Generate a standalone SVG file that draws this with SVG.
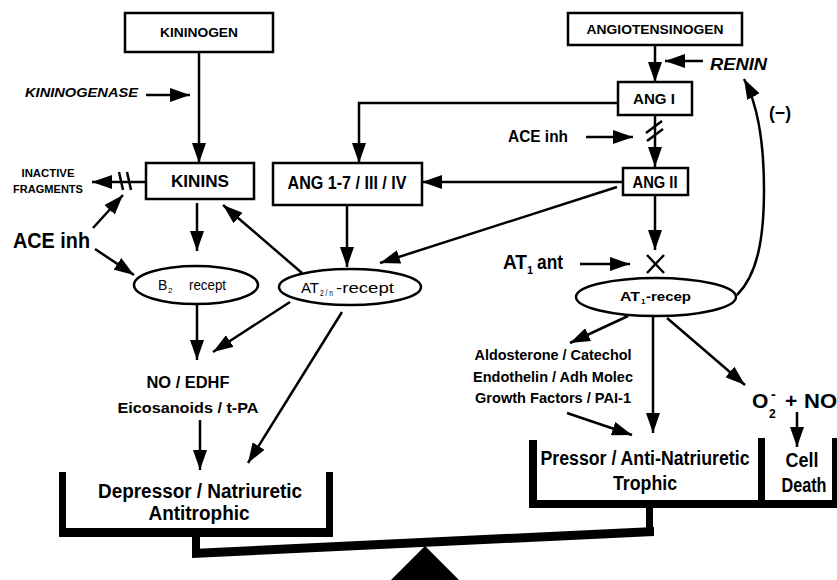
<svg xmlns="http://www.w3.org/2000/svg" width="837" height="580" viewBox="0 0 837 580">
<style>
text{font-family:"Liberation Sans",Arial,sans-serif;font-weight:bold;fill:#000}
.it{font-style:italic}
.rg{font-weight:normal}
.box{fill:#fff;stroke:#000;stroke-width:2.5}
.ell{fill:#fff;stroke:#000;stroke-width:2.5}
.ln{stroke:#000;stroke-width:2.5;fill:none}
.ar{marker-end:url(#ah)}
.blk{fill:#000}
</style>
<defs>
<marker id="ah" markerUnits="userSpaceOnUse" markerWidth="20" markerHeight="14" refX="20" refY="7" orient="auto"><path d="M0,0 L20,7 L0,14 z" fill="#000"/></marker>
</defs>
<rect width="837" height="580" fill="#fff"/>

<g id="connectors">
<line class="ln ar" x1="199" y1="52" x2="199" y2="163"/>
<line class="ln ar" x1="146" y1="95" x2="190" y2="95"/>
<line class="ln ar" x1="146" y1="182" x2="92" y2="182"/>
<line class="ln" x1="119" y1="172" x2="123" y2="190"/>
<line class="ln" x1="127" y1="172" x2="131" y2="190"/>
<line class="ln ar" x1="93" y1="228" x2="123" y2="195"/>
<line class="ln ar" x1="95" y1="249" x2="134" y2="275"/>
<line class="ln ar" x1="197" y1="203" x2="197" y2="251"/>
<line class="ln ar" x1="197" y1="305" x2="197" y2="360"/>
<line class="ln ar" x1="302" y1="273" x2="223" y2="205"/>
<line class="ln ar" x1="347" y1="205" x2="347" y2="267"/>
<line class="ln ar" x1="617" y1="187" x2="380" y2="263"/>
<line class="ln ar" x1="290" y1="302" x2="213" y2="352"/>
<line class="ln ar" x1="342" y1="312" x2="248" y2="463"/>
<line class="ln ar" x1="200" y1="420" x2="200" y2="470"/>
<polyline class="ln ar" points="618,103 359,103 359,163"/>
<line class="ln ar" x1="655" y1="45" x2="655" y2="82"/>
<line class="ln ar" x1="703" y1="61" x2="665" y2="61"/>
<line class="ln ar" x1="655" y1="115" x2="655" y2="167"/>
<line class="ln" x1="646" y1="133" x2="662" y2="121"/>
<line class="ln" x1="647" y1="141" x2="663" y2="129"/>
<line class="ln ar" x1="586" y1="137" x2="633" y2="137"/>
<line class="ln ar" x1="623" y1="182" x2="422" y2="182"/>
<line class="ln ar" x1="655" y1="195" x2="655" y2="250"/>
<line class="ln ar" x1="580" y1="264" x2="630" y2="264"/>
<line class="ln" x1="647" y1="255" x2="664" y2="273"/>
<line class="ln" x1="664" y1="255" x2="647" y2="273"/>
<path class="ln ar" d="M737,295 C757,275 764,240 764,190 C764,140 758,105 744,79"/>
<line class="ln ar" x1="628" y1="316" x2="570" y2="343"/>
<line class="ln ar" x1="653" y1="316" x2="653" y2="433"/>
<line class="ln ar" x1="667" y1="318" x2="745" y2="385"/>
<line class="ln ar" x1="567" y1="413" x2="632" y2="435"/>
<line class="ln ar" x1="797" y1="412" x2="797" y2="447"/>
</g>

<g id="kininogen">
<rect class="box" x="125" y="13" width="148" height="39"/>
<text x="199" y="37" font-size="13.5" text-anchor="middle" textLength="78" lengthAdjust="spacingAndGlyphs">KININOGEN</text>
</g>
<g id="kininogenase">
<text class="it" x="25" y="97" font-size="13.5" textLength="113" lengthAdjust="spacingAndGlyphs">KININOGENASE</text>
</g>
<g id="kinins">
<rect class="box" x="146" y="163" width="108" height="36"/>
<text x="200" y="187" font-size="17" text-anchor="middle" textLength="58" lengthAdjust="spacingAndGlyphs">KININS</text>
</g>
<g id="inactive">
<text x="48" y="177" font-size="11" text-anchor="middle" textLength="53" lengthAdjust="spacingAndGlyphs">INACTIVE</text>
<text x="48" y="193" font-size="11" text-anchor="middle" textLength="70" lengthAdjust="spacingAndGlyphs">FRAGMENTS</text>
</g>
<g id="aceinh-left">
<text x="13" y="248" font-size="22" textLength="77" lengthAdjust="spacingAndGlyphs">ACE inh</text>
</g>
<g id="b2">
<ellipse class="ell" cx="196" cy="285" rx="62" ry="19"/>
<text class="rg" x="158" y="290" font-size="14">B</text>
<text class="rg" x="168" y="293" font-size="8">2</text>
<text class="rg" x="189" y="290" font-size="14" textLength="37" lengthAdjust="spacingAndGlyphs">recept</text>
</g>
<g id="ang17">
<rect class="box" x="273" y="163" width="149" height="42"/>
<text x="347" y="189" font-size="18" text-anchor="middle" textLength="119" lengthAdjust="spacingAndGlyphs">ANG 1-7 / III / IV</text>
</g>
<g id="at2">
<ellipse class="ell" cx="350" cy="287" rx="71" ry="18"/>
<text class="rg" x="301" y="293" font-size="14.5" textLength="18" lengthAdjust="spacingAndGlyphs">AT</text>
<text class="rg" x="320" y="296" font-size="8.5" textLength="13" lengthAdjust="spacingAndGlyphs">2 / n</text>
<text class="rg" x="336" y="293" font-size="14.5" textLength="58" lengthAdjust="spacingAndGlyphs">-recept</text>
</g>
<g id="no-edhf">
<text x="188" y="388" font-size="16" text-anchor="middle" textLength="83" lengthAdjust="spacingAndGlyphs">NO / EDHF</text>
<text x="188" y="413" font-size="15.5" text-anchor="middle" textLength="141" lengthAdjust="spacingAndGlyphs">Eicosanoids /  t-PA</text>
</g>
<g id="depressor">
<rect class="blk" x="59" y="472" width="7" height="65"/>
<rect class="blk" x="326" y="472" width="7" height="65"/>
<rect class="blk" x="59" y="528" width="274" height="9"/>
<text x="200" y="498" font-size="19.5" text-anchor="middle" textLength="204" lengthAdjust="spacingAndGlyphs">Depressor / Natriuretic</text>
<text x="199" y="520" font-size="19.5" text-anchor="middle" textLength="101" lengthAdjust="spacingAndGlyphs">Antitrophic</text>
</g>
<g id="angiotensinogen">
<rect class="box" x="568" y="13" width="174" height="32"/>
<text x="655" y="34" font-size="13" text-anchor="middle" textLength="137" lengthAdjust="spacingAndGlyphs">ANGIOTENSINOGEN</text>
</g>
<g id="renin">
<text class="it" x="710" y="70" font-size="16.5" textLength="57" lengthAdjust="spacingAndGlyphs">RENIN</text>
</g>
<g id="angI">
<rect class="box" x="618" y="82" width="74" height="33"/>
<text x="654" y="104" font-size="15" text-anchor="middle" textLength="42" lengthAdjust="spacingAndGlyphs">ANG I</text>
</g>
<g id="aceinh-right">
<text x="508" y="142" font-size="16.5" textLength="60" lengthAdjust="spacingAndGlyphs">ACE inh</text>
</g>
<g id="minus">
<text x="780" y="119" font-size="18" text-anchor="middle" textLength="22" lengthAdjust="spacingAndGlyphs">(−)</text>
</g>
<g id="angII">
<rect class="box" x="623" y="168" width="65" height="27"/>
<text x="655" y="188" font-size="16" text-anchor="middle" textLength="45" lengthAdjust="spacingAndGlyphs">ANG II</text>
</g>
<g id="at1ant">
<text x="503" y="269" font-size="20" textLength="24" lengthAdjust="spacingAndGlyphs">AT</text>
<text x="527" y="274" font-size="11">1</text>
<text x="537" y="269" font-size="20" textLength="26" lengthAdjust="spacingAndGlyphs">ant</text>
</g>
<g id="at1">
<ellipse class="ell" cx="656" cy="297" rx="80" ry="19"/>
<text x="620" y="301" font-size="13.5" textLength="20" lengthAdjust="spacingAndGlyphs">AT</text>
<text x="641" y="304" font-size="8">1</text>
<text x="646" y="301" font-size="13.5" textLength="45" lengthAdjust="spacingAndGlyphs">-recep</text>
</g>
<g id="aldosterone">
<text x="553" y="360" font-size="15" text-anchor="middle" textLength="157" lengthAdjust="spacingAndGlyphs">Aldosterone / Catechol</text>
<text x="553" y="382" font-size="15" text-anchor="middle" textLength="160" lengthAdjust="spacingAndGlyphs">Endothelin / Adh Molec</text>
<text x="553" y="403" font-size="15" text-anchor="middle" textLength="156" lengthAdjust="spacingAndGlyphs">Growth Factors / PAI-1</text>
</g>
<g id="o2no">
<text x="752" y="408" font-size="21">O</text>
<text x="769" y="418" font-size="12">2</text>
<text x="771" y="399" font-size="14">-</text>
<text x="785" y="408" font-size="21">+</text>
<text x="804" y="408" font-size="21" textLength="33" lengthAdjust="spacingAndGlyphs">NO</text>
</g>
<g id="pressor">
<rect class="blk" x="529" y="440" width="8" height="68"/>
<rect class="blk" x="758" y="438" width="7" height="70"/>
<rect class="blk" x="832" y="438" width="5" height="70"/>
<rect class="blk" x="529" y="500" width="308" height="8"/>
<text x="645" y="465" font-size="19.5" text-anchor="middle" textLength="209" lengthAdjust="spacingAndGlyphs">Pressor / Anti-Natriuretic</text>
<text x="645" y="490" font-size="19.5" text-anchor="middle" textLength="64" lengthAdjust="spacingAndGlyphs">Trophic</text>
</g>
<g id="celldeath">
<text x="802" y="467" font-size="19.5" text-anchor="middle" textLength="33" lengthAdjust="spacingAndGlyphs">Cell</text>
<text x="804" y="492" font-size="19.5" text-anchor="middle" textLength="45" lengthAdjust="spacingAndGlyphs">Death</text>
</g>
<g id="balance">
<rect class="blk" x="192" y="533" width="8" height="24"/>
<rect class="blk" x="646" y="505" width="7" height="28"/>
<polygon class="blk" points="192,549 654,527 654,536 192,558"/>
<polygon class="blk" points="425,546 390,581 460,581"/>
</g>
</svg>
